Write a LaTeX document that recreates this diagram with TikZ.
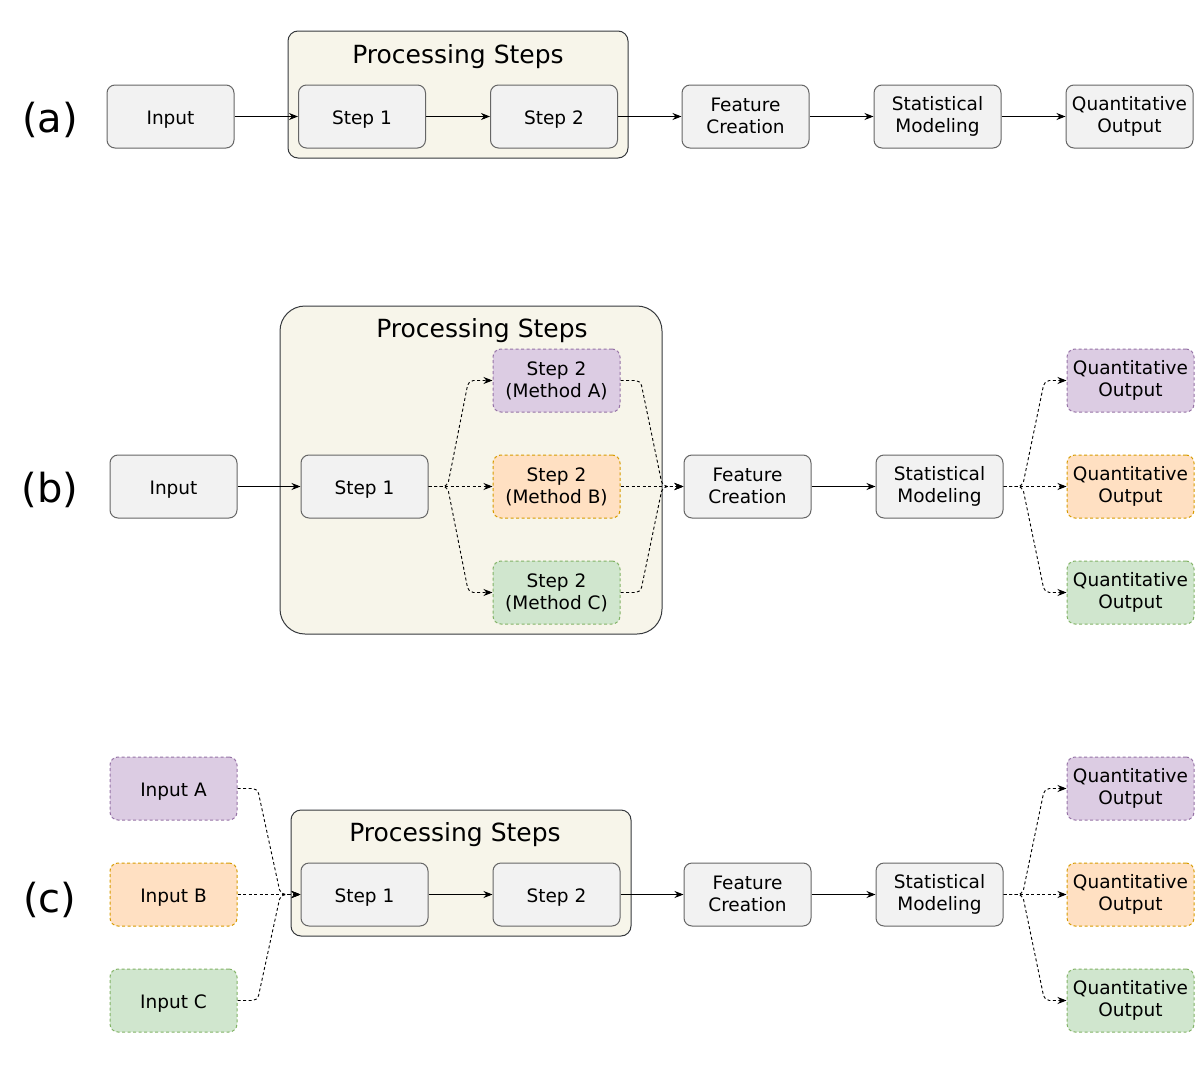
\documentclass[tikz,border=0pt]{standalone}
\usepackage{fontspec}
\setmainfont{DejaVu Sans}
\usetikzlibrary{arrows.meta,calc}
\newcommand\bxstrut{\rule[-2.25pt]{0pt}{22pt}}
\definecolor{gfill}{HTML}{F2F2F2}
\definecolor{gline}{HTML}{666666}
\definecolor{cfill}{HTML}{F7F5EA}
\definecolor{cline}{HTML}{36393D}
\definecolor{pfill}{HTML}{DCCCE3}
\definecolor{pline}{HTML}{9673A6}
\definecolor{ofill}{HTML}{FFE0C2}
\definecolor{oline}{HTML}{D79B00}
\definecolor{grfill}{HTML}{D0E6CE}
\definecolor{grline}{HTML}{82B366}
\tikzset{
  box/.style={rounded corners=8pt, minimum width=127pt, minimum height=63pt, align=center,
    inner sep=0pt, line width=1pt, font=\fontsize{18.5}{22}\selectfont,
    execute at begin node=\bxstrut, execute at end node=\bxstrut},
  gbox/.style={box, draw=gline, fill=gfill},
  dbox/.style={box, dash pattern=on 3pt off 2.5pt},
  pbox/.style={dbox, draw=pline, fill=pfill},
  obox/.style={dbox, draw=oline, fill=ofill},
  grbox/.style={dbox, draw=grline, fill=grfill},
  container/.style={draw=cline, fill=cfill, line width=1pt, inner sep=0pt},
  title/.style={font=\fontsize{25}{30}\selectfont},
  plabel/.style={font=\fontsize{40}{48}\selectfont},
  sline/.style={-{Stealth[length=9pt,width=7pt]}, line width=0.9pt},
  dline/.style={sline, dash pattern=on 3pt off 2.5pt, rounded corners=5pt},
}
\begin{document}
\begin{tikzpicture}[x=1pt,y=-1pt]
\useasboundingbox (0,0) rectangle (1195,1068);
% ---------- (a) ----------
\node[plabel] (la) at (50,120) {(a)};
\node[container, rounded corners=10pt, minimum width=340pt, minimum height=127pt] (pa) at (458,94.5) {};
\node[title] (ta) at (458,57) {Processing Steps};
\node[gbox] (ina) at (170.5,116.5) {Input};
\node[gbox] (s1a) at (362,116.5) {Step 1};
\node[gbox] (s2a) at (554,116.5) {Step 2};
\node[gbox] (fca) at (745.5,116.5) {Feature\\Creation};
\node[gbox] (sma) at (937.5,116.5) {Statistical\\Modeling};
\node[gbox] (qoa) at (1129.5,116.5) {Quantitative\\Output};
\draw[sline] (ina) -- (s1a);
\draw[sline] (s1a) -- (s2a);
\draw[sline] (s2a) -- (fca);
\draw[sline] (fca) -- (sma);
\draw[sline] (sma) -- (qoa);
% ---------- (b) ----------
\node[plabel] (lb) at (50,490) {(b)};
\node[container, rounded corners=25pt, minimum width=382pt, minimum height=328pt] (pb) at (471,470) {};
\node[title] (tb) at (482,331) {Processing Steps};
\node[gbox] (inb) at (173.5,486.5) {Input};
\node[gbox] (s1b) at (364.5,486.5) {Step 1};
\node[pbox] (ma) at (556.5,380.5) {Step 2\\(Method A)};
\node[obox] (mb) at (556.5,486.5) {Step 2\\(Method B)};
\node[grbox] (mc) at (556.5,592.5) {Step 2\\(Method C)};
\node[gbox] (fcb) at (747.5,486.5) {Feature\\Creation};
\node[gbox] (smb) at (939.5,486.5) {Statistical\\Modeling};
\node[pbox] (qob1) at (1130.5,380.5) {Quantitative\\Output};
\node[obox] (qob2) at (1130.5,486.5) {Quantitative\\Output};
\node[grbox] (qob3) at (1130.5,592.5) {Quantitative\\Output};
\draw[sline] (inb) -- (s1b);
\draw[dline] (s1b.east) -- ++(19,0) -- ($(ma.west)+(-24,0)$) -- (ma.west);
\draw[dline] (s1b.east) -- (mb.west);
\draw[dline] (s1b.east) -- ++(19,0) -- ($(mc.west)+(-24,0)$) -- (mc.west);
\draw[dline] (ma.east) -- ++(20,0) -- ($(fcb.west)+(-21,0)$) -- (fcb.west);
\draw[dline] (mb.east) -- (fcb.west);
\draw[dline] (mc.east) -- ++(20,0) -- ($(fcb.west)+(-21,0)$) -- (fcb.west);
\draw[sline] (fcb) -- (smb);
\draw[dline] (smb.east) -- ++(19,0) -- ($(qob1.west)+(-22,0)$) -- (qob1.west);
\draw[dline] (smb.east) -- (qob2.west);
\draw[dline] (smb.east) -- ++(19,0) -- ($(qob3.west)+(-22,0)$) -- (qob3.west);
% ---------- (c) ----------
\node[plabel] (lc) at (50,900) {(c)};
\node[container, rounded corners=10pt, minimum width=340pt, minimum height=126pt] (pc) at (461,873) {};
\node[title] (tc) at (455,835) {Processing Steps};
\node[pbox] (inc1) at (173.5,788.5) {Input A};
\node[obox] (inc2) at (173.5,894.5) {Input B};
\node[grbox] (inc3) at (173.5,1000.5) {Input C};
\node[gbox] (s1c) at (364.5,894.5) {Step 1};
\node[gbox] (s2c) at (556.5,894.5) {Step 2};
\node[gbox] (fcc) at (747.5,894.5) {Feature\\Creation};
\node[gbox] (smc) at (939.5,894.5) {Statistical\\Modeling};
\node[pbox] (qoc1) at (1130.5,788.5) {Quantitative\\Output};
\node[obox] (qoc2) at (1130.5,894.5) {Quantitative\\Output};
\node[grbox] (qoc3) at (1130.5,1000.5) {Quantitative\\Output};
\draw[dline] (inc1.east) -- ++(20,0) -- ($(s1c.west)+(-20,0)$) -- (s1c.west);
\draw[dline] (inc2.east) -- (s1c.west);
\draw[dline] (inc3.east) -- ++(20,0) -- ($(s1c.west)+(-20,0)$) -- (s1c.west);
\draw[sline] (s1c) -- (s2c);
\draw[sline] (s2c) -- (fcc);
\draw[sline] (fcc) -- (smc);
\draw[dline] (smc.east) -- ++(19,0) -- ($(qoc1.west)+(-22,0)$) -- (qoc1.west);
\draw[dline] (smc.east) -- (qoc2.west);
\draw[dline] (smc.east) -- ++(19,0) -- ($(qoc3.west)+(-22,0)$) -- (qoc3.west);
\end{tikzpicture}
\end{document}
